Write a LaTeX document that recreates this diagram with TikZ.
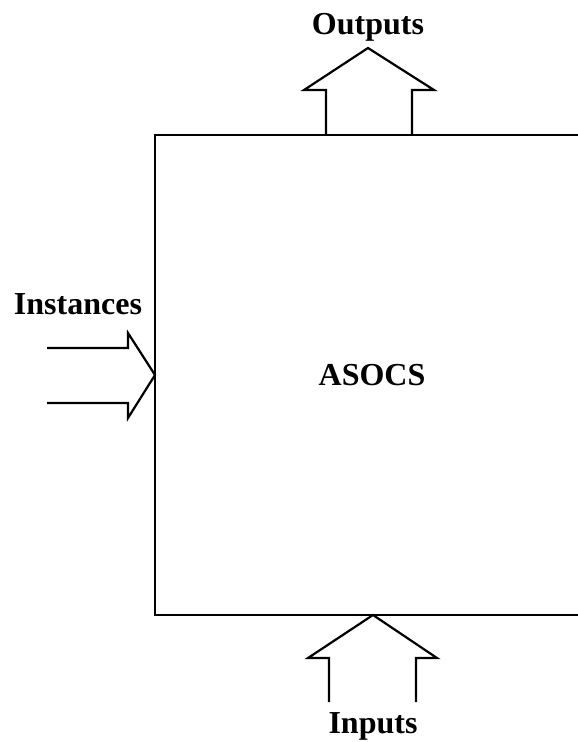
\documentclass[tikz,border=0pt]{standalone}
\usepackage{fontspec}
\setmainfont{Liberation Serif}
\begin{document}
\begin{tikzpicture}[x=1pt,y=-1pt,
  lbl/.style={font=\fontsize{32}{35}\selectfont\bfseries, inner sep=0pt, anchor=center},
  ln/.style={line width=2.2pt, line join=miter}]
\useasboundingbox (0,0) rectangle (578,742);
% box
\coordinate (tl) at (155,135);
\coordinate (tr) at (578,135);
\coordinate (bl) at (155,615);
\coordinate (br) at (578,615);
\draw[ln] (tr) -- (tl) -- (bl) -- (br);
% labels
\node[lbl] (outputs) at (368,27) {Outputs};
\node[lbl] (instances) at (78,304) {Instances};
\node[lbl] (asocs) at (372,375) {ASOCS};
\node[lbl] (inputs) at (373,726) {Inputs};
% outputs arrow
\draw[ln] (326,135) -- (326,90) -- (304,90) -- (368,48) -- (434,90) -- (412,90) -- (412,135);
% instances arrow
\draw[ln] (47,348) -- (128,348) -- (128,333) -- (155,375) -- (128,418) -- (128,403) -- (47,403);
% inputs arrow
\draw[ln] (329,702) -- (329,658) -- (308,658) -- (373,615) -- (437,658) -- (416,658) -- (416,702);
\end{tikzpicture}
\end{document}
